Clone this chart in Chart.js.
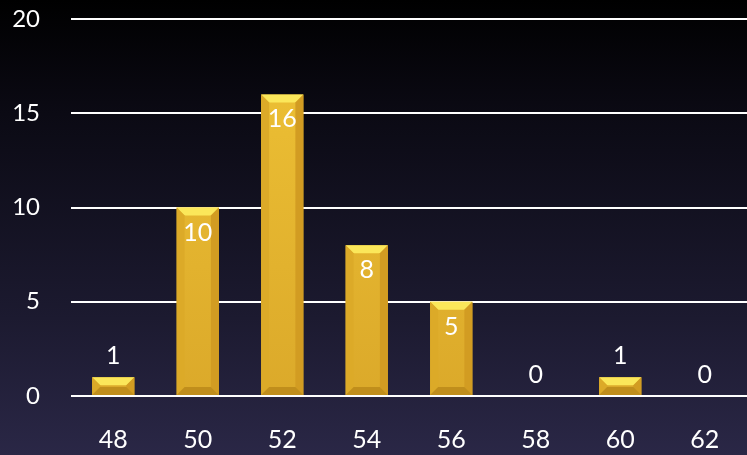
<!DOCTYPE html>
<html>
<head>
    <title>Distribution</title>
    <script src="https://cdn.jsdelivr.net/npm/chart.js"></script>
    <style>
        html, body {
            margin: 0;
            padding: 0;
            overflow: hidden;
        }

        .chart-box {
            width: 747px;
            height: 455px;
            background: linear-gradient(to bottom, #000000 0%, #0b0a14 25%, #1c1a30 70%, #2a2746 100%);
        }
    </style>
</head>
<body>
    <div class="chart-box">
        <canvas id="histChart" width="747" height="455"></canvas>
    </div>

    <script>
        const categories = ['48', '50', '52', '54', '56', '58', '60', '62'];
        const counts = [1, 10, 16, 8, 5, 0, 1, 0];
        const yTicks = [0, 5, 10, 15, 20];

        const fontFamily = "Lato, 'Open Sans', sans-serif";

        // bevelled gold look on each bar + value labels
        const bevelPlugin = {
            id: 'bevel',
            afterDatasetsDraw(chart) {
                const ctx = chart.ctx;
                const meta = chart.getDatasetMeta(0);
                meta.data.forEach((bar, i) => {
                    const p = bar.getProps(['x', 'y', 'base', 'width'], true);
                    const l = p.x - p.width / 2, r = p.x + p.width / 2;
                    const t = p.y, btm = p.base;
                    const h = btm - t;
                    if (h > 0.5) {
                        const b = Math.min(8, h / 2);
                        ctx.save();
                        const poly = (pts, color) => {
                            ctx.beginPath();
                            ctx.moveTo(pts[0][0], pts[0][1]);
                            for (let k = 1; k < pts.length; k++) ctx.lineTo(pts[k][0], pts[k][1]);
                            ctx.closePath();
                            ctx.fillStyle = color;
                            ctx.fill();
                        };
                        poly([[l, t], [r, t], [r - b, t + b], [l + b, t + b]], '#fbe75a');
                        poly([[l, t], [l + b, t + b], [l + b, btm - b], [l, btm]], '#dcaa28');
                        poly([[r, t], [r - b, t + b], [r - b, btm - b], [r, btm]], '#d29c22');
                        poly([[l, btm], [l + b, btm - b], [r - b, btm - b], [r, btm]], '#c08e1c');
                        ctx.restore();
                    }

                    // value label
                    const v = counts[i];
                    ctx.save();
                    ctx.fillStyle = '#ffffff';
                    ctx.font = '25px ' + fontFamily;
                    ctx.textAlign = 'center';
                    ctx.textBaseline = 'middle';
                    const ly = v >= 5 ? t + 25 : t - 21;
                    ctx.fillText(String(v), p.x, ly);
                    ctx.restore();
                });
            }
        };

        const ctx = document.getElementById('histChart');
        const g = ctx.getContext('2d').createLinearGradient(0, 0, 0, 400);
        g.addColorStop(0, '#f0c436');
        g.addColorStop(1, '#dba92a');

        new Chart(ctx, {
            type: 'bar',
            data: {
                labels: categories,
                datasets: [{
                    data: counts,
                    backgroundColor: g,
                    borderWidth: 0,
                    barPercentage: 0.5,
                    categoryPercentage: 1
                }]
            },
            options: {
                responsive: false,
                animation: false,
                layout: { padding: { top: 19, right: 0, left: 0, bottom: 0 } },
                plugins: {
                    legend: { display: false },
                    tooltip: { enabled: false }
                },
                scales: {
                    x: {
                        grid: { display: false },
                        border: { display: false },
                        afterFit(axis) { axis.height = 59; },
                        ticks: {
                            color: '#ffffff',
                            padding: 21,
                            font: { family: fontFamily, size: 25 }
                        }
                    },
                    y: {
                        min: yTicks[0],
                        max: yTicks[yTicks.length - 1],
                        afterBuildTicks(axis) {
                            axis.ticks = yTicks.map(v => ({ value: v }));
                        },
                        afterFit(axis) {
                            axis.width = 71;
                            axis.paddingTop = 0;
                            axis.paddingBottom = 0;
                        },
                        grid: {
                            color: '#ffffff',
                            lineWidth: 2,
                            drawTicks: false
                        },
                        border: { display: false },
                        ticks: {
                            color: '#ffffff',
                            padding: 31,
                            font: { family: fontFamily, size: 24 }
                        }
                    }
                }
            },
            plugins: [bevelPlugin]
        });
    </script>
</body>
</html>
